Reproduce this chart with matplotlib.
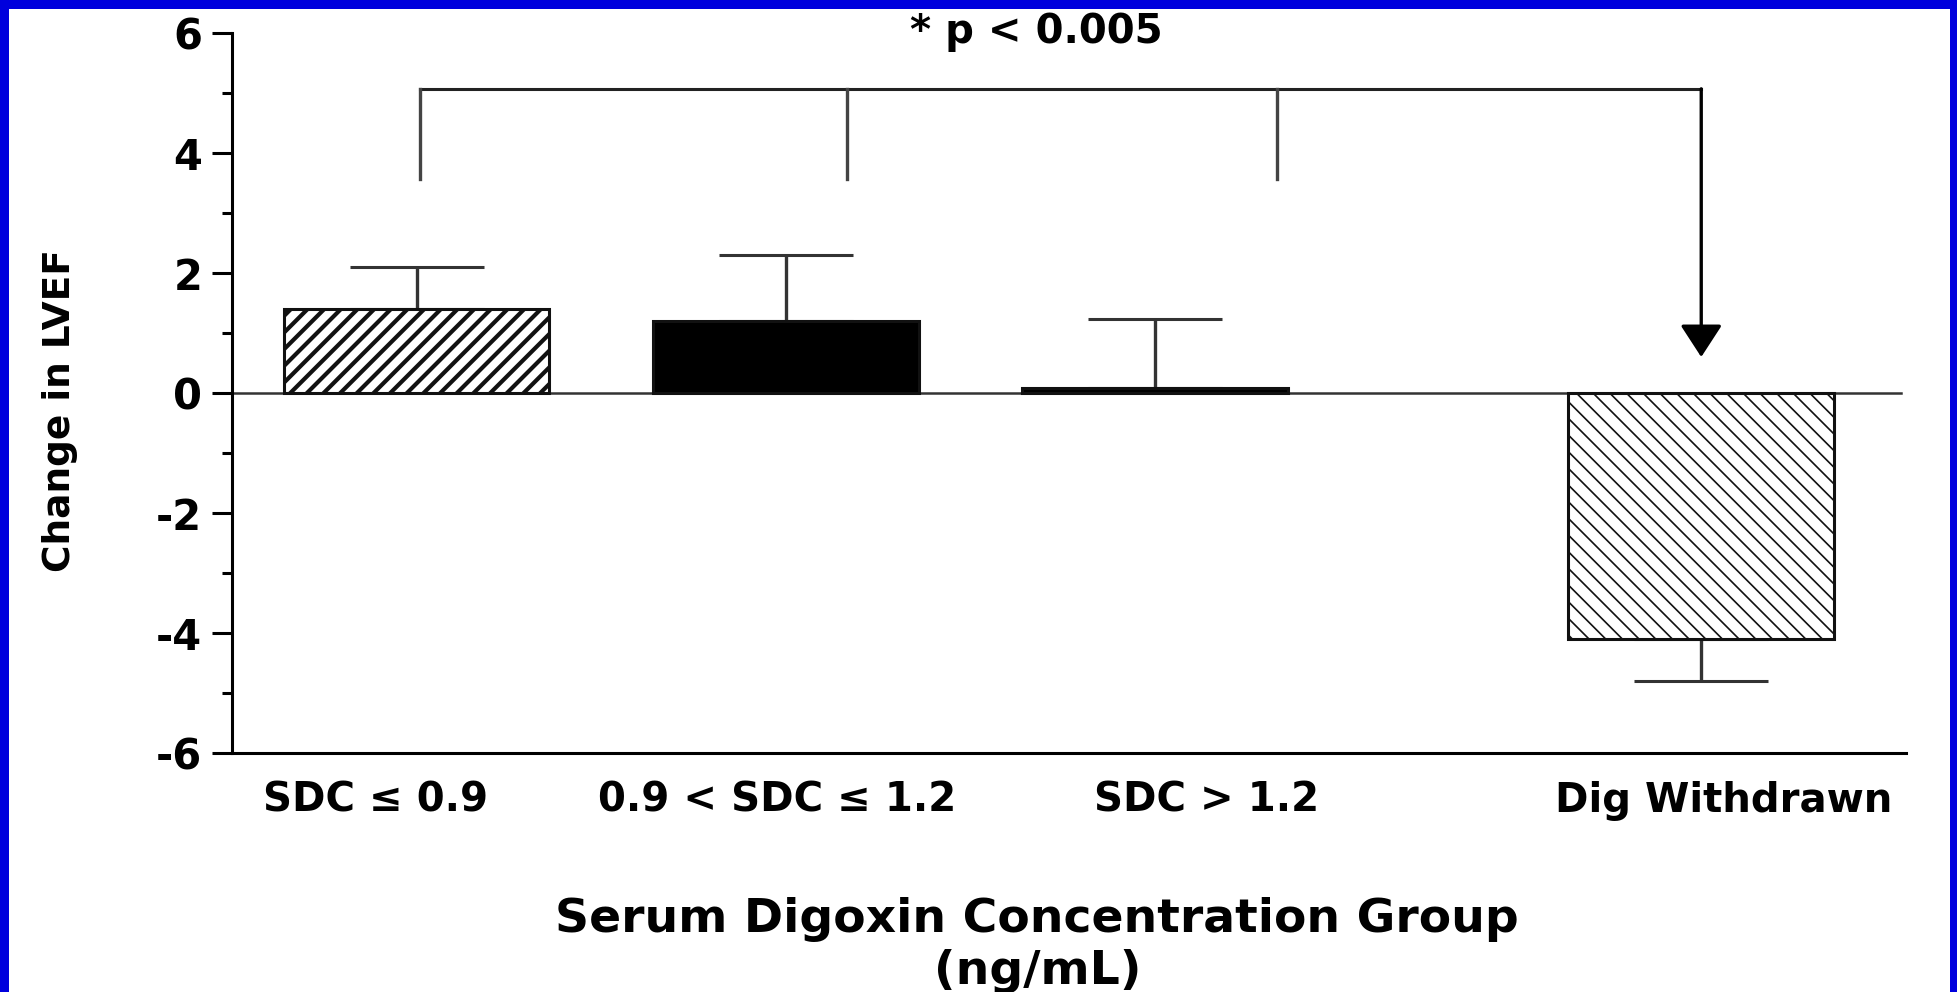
import matplotlib.pyplot as plt
from matplotlib.patches import Rectangle
from matplotlib.ticker import MultipleLocator

groups = ['SDC ≤ 0.9', '0.9 < SDC ≤ 1.2', 'SDC > 1.2', 'Dig Withdrawn']
lvef_change = [1.4, 1.2, 0.08, -4.1]
err_up = [0.7, 1.1, 1.15, 0.0]
err_down = [0.0, 0.0, 0.0, 0.7]
p_text = '* p < 0.005'

hatches = ['//', None, None, '\\\\']
fills = ['white', 'black', 'black', 'white']
hatch_lw = [3.0, 1.0, 1.0, 1.2]

# bar centres (withdrawn group set apart) and where the group names sit
bar_x = [0, 1, 2, 3.48]
label_x = [-0.11, 0.976, 2.14, 3.54]

# significance bracket
bracket_y = 5.07
drop_x = [0.01, 1.165, 2.33]
drop_end = 3.57
arrow_tip = 0.6

plt.rcParams['font.family'] = ['DejaVu Sans']
plt.rcParams['font.weight'] = 'bold'
plt.rcParams['axes.labelweight'] = 'bold'
plt.rcParams['axes.unicode_minus'] = False

fig = plt.figure(figsize=(19.58, 9.92), dpi=100, facecolor='#0000dd')
fig.add_artist(Rectangle((9 / 1958, 0), 1941 / 1958, 1 - 9 / 992,
                         transform=fig.transFigure, facecolor='white',
                         edgecolor='none', zorder=-1))
ax = fig.add_axes([0.1185, 0.2409, 0.855, 0.7258])

ax.errorbar(bar_x, lvef_change, yerr=[err_down, err_up], fmt='none',
            ecolor='#333333', elinewidth=2.4, capsize=48, capthick=2.2,
            zorder=1)
bars = ax.bar(bar_x, lvef_change, width=0.72, color=fills,
              edgecolor='#111111', linewidth=2.2, zorder=2)
for bar, h, lw in zip(bars, hatches, hatch_lw):
    if h:
        bar.set_hatch(h)
        if hasattr(bar, 'set_hatch_linewidth'):
            bar.set_hatch_linewidth(lw)
        else:
            plt.rcParams['hatch.linewidth'] = lw

ax.plot([-0.5, 4.02], [0, 0], color='#333333', lw=1.8, zorder=1.5)

# bracket and arrow to the withdrawn group
ax.plot([drop_x[0], bar_x[3]], [bracket_y, bracket_y], color='#222222', lw=2.2)
for dx in drop_x:
    ax.plot([dx, dx], [drop_end, bracket_y], color='#444444', lw=2.4)
ax.annotate('', xy=(bar_x[3], arrow_tip), xytext=(bar_x[3], bracket_y),
            arrowprops=dict(arrowstyle='-|>,head_length=2.0,head_width=1.3',
                            lw=2.4, color='black', shrinkA=0, shrinkB=0,
                            mutation_scale=10))
ax.text(1.68, 6.02, p_text, ha='center', va='center', fontsize=29,
        fontweight='bold', clip_on=False)

ax.set_xlim(-0.5, 4.035)
ax.set_ylim(-6, 6)
ax.yaxis.set_major_locator(MultipleLocator(2))
ax.yaxis.set_minor_locator(MultipleLocator(1))
ax.tick_params(axis='y', which='major', length=14.4, width=2.2, pad=7,
               labelsize=30)
ax.tick_params(axis='y', which='minor', length=7.2, width=2.2)
ax.set_xticks(label_x)
ax.set_xticklabels(groups)
ax.tick_params(axis='x', length=0, pad=20, labelsize=29)

for side in ['top', 'right']:
    ax.spines[side].set_visible(False)
ax.spines['left'].set_linewidth(2.2)
ax.spines['bottom'].set_linewidth(2.2)

ax.set_ylabel('Change in LVEF', fontsize=27)
ax.yaxis.set_label_coords(-0.092, 0.476)
ax.set_xlabel('Serum Digoxin Concentration Group\n(ng/mL)', fontsize=34,
              linespacing=1.2)
ax.xaxis.set_label_coords(0.481, -0.2)

plt.savefig('out.png', dpi=100)
